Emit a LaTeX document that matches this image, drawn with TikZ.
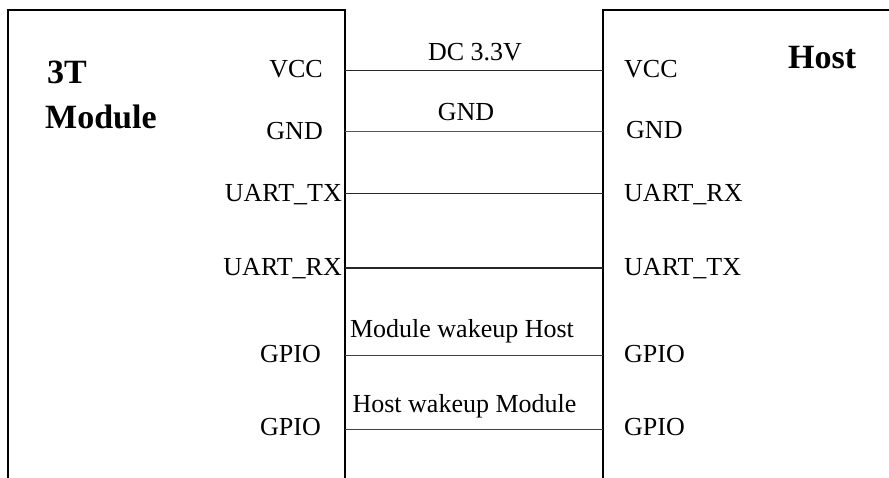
\documentclass[tikz,border=0pt]{standalone}
\usepackage{fontspec}
\setmainfont{Liberation Serif}
\usetikzlibrary{positioning}

\begin{document}
\begin{tikzpicture}[
      x=1pt,y=-1pt,
      box/.style={line width=2pt,line join=miter},
      wire/.style={line width=1pt,black!85},
      pin/.style={inner sep=0pt,font=\fontsize{26}{30}\selectfont},
      sig/.style={inner sep=0pt,anchor=base,font=\fontsize{26}{30}\selectfont},
      title/.style={inner sep=0pt,anchor=base west,font=\fontsize{34}{38}\selectfont\bfseries}
    ]
    \useasboundingbox (0,0) rectangle (889,477);
    % the two blocks, open at the bottom
    \draw[box] (8,478) |- (344.5,9.7) -- (344.5,478);
    \draw[box] (602.5,478) |- (892,9.7);
    \node[title] (t3) at (47,83) {3T};
    \node[title] (tmod) at (45,128) {Module};
    \node[title] (thost) at (788,68) {Host};
    % pins of the module
    \node[pin,anchor=base east] (mvcc) at (323,77) {VCC};
    \node[pin,anchor=base east] (mgnd) at (323,139) {GND};
    \node[pin,anchor=base east] (mtx) at (342,201.5) {UART\_TX};
    \node[pin,anchor=base east] (mrx) at (342,275.5) {UART\_RX};
    \node[pin,anchor=base east] (mio1) at (321,362) {GPIO};
    \node[pin,anchor=base east] (mio2) at (321,435.5) {GPIO};
    % pins of the host
    \node[pin,anchor=base west] (hvcc) at (624,77) {VCC};
    \node[pin,anchor=base west] (hgnd) at (626,138.5) {GND};
    \node[pin,anchor=base west] (hrx) at (624,201.5) {UART\_RX};
    \node[pin,anchor=base west] (htx) at (624,275.5) {UART\_TX};
    \node[pin,anchor=base west] (hio1) at (624,362) {GPIO};
    \node[pin,anchor=base west] (hio2) at (624,435.5) {GPIO};
    % wire ends on the block edges
    \coordinate (a1) at (344.5,70);   \coordinate (b1) at (602.5,70);
    \coordinate (a2) at (344.5,131);  \coordinate (b2) at (602.5,131);
    \coordinate (a3) at (344.5,193.5);\coordinate (b3) at (602.5,193.5);
    \coordinate (a4) at (344.5,268);  \coordinate (b4) at (602.5,268);
    \coordinate (a5) at (344.5,355);  \coordinate (b5) at (602.5,355);
    \coordinate (a6) at (344.5,429);  \coordinate (b6) at (602.5,429);
    \draw[wire] (a1) -- (b1);
    \draw[wire,black!65] (a2) -- (b2);
    \draw[wire] (a3) -- (b3);
    \draw[wire,line width=1.3pt] (a4) -- (b4);
    \draw[wire,black!75] (a5) -- (b5);
    \draw[wire,black!75] (a6) -- (b6);
    \node[sig] (l1) at (475,60) {DC 3.3V};
    \node[sig] (l2) at (466,120) {GND};
    \node[sig] (l5) at (462,337) {Module wakeup Host};
    \node[sig] (l6) at (464.5,412) {Host wakeup Module};
  \end{tikzpicture}
\end{document}
